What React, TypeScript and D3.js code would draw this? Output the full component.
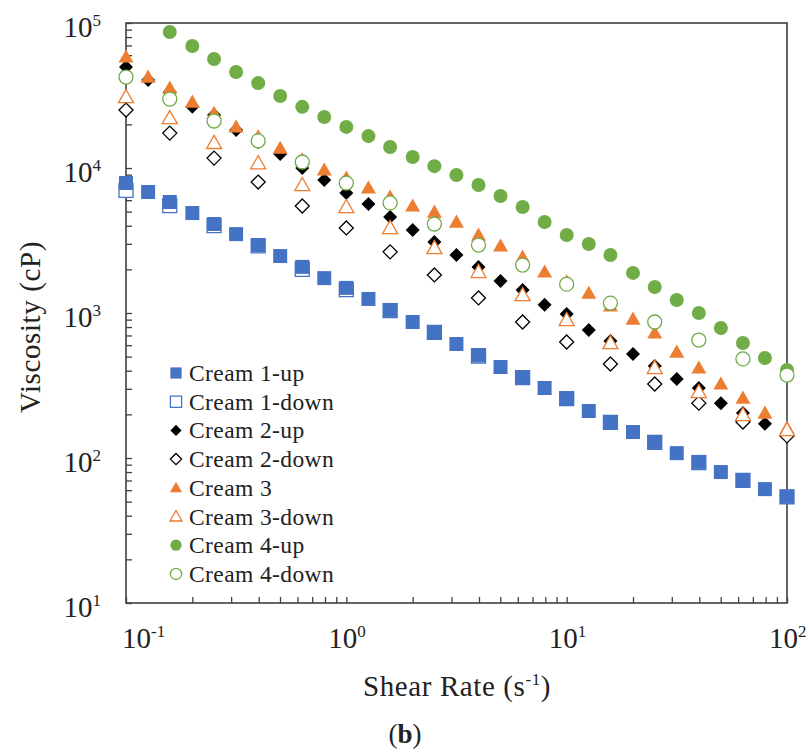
import React, { useRef, useEffect } from "react";
import * as d3 from "d3";

// shear rates (1/s), 10 points per decade for the up-curves
const shearRate = [0.1, 0.126, 0.158, 0.2, 0.251, 0.316, 0.398, 0.501, 0.631, 0.794, 1, 1.26, 1.58, 2, 2.51, 3.16, 3.98, 5.01, 6.31, 7.94, 10, 12.6, 15.8, 20, 25.1, 31.6, 39.8, 50.1, 63.1, 79.4, 100];
// down-curves were sampled every other point
const shearRateDown = [0.1, 0.158, 0.251, 0.398, 0.631, 1, 1.58, 2.51, 3.98, 6.31, 10, 15.8, 25.1, 39.8, 63.1, 100];

// viscosity (cP)
const cream1Up = [7880, 6830, 5830, 4890, 4110, 3500, 2940, 2470, 2080, 1740, 1490, 1250, 1050, 867, 739, 611, 513, 424, 362, 304, 259, 211, 177, 151, 129, 108, 94, 80, 70, 61, 54];
const cream1Down = [7000, 5500, 4000, 2900, 2000, 1450, 1040, 735, 505, 358, 257, 176, 128, 93, 70, 54];
const cream2Up = [49700, 40400, 33400, 26400, 23200, 18300, 15100, 12500, 10000, 8260, 6730, 5650, 4590, 3740, 3090, 2510, 2080, 1660, 1440, 1140, 984, 764, 641, 521, 431, 351, 304, 239, 204, 172, 144];
const cream2Down = [25100, 17400, 11700, 8000, 5470, 3860, 2640, 1830, 1270, 867, 631, 445, 324, 239, 177, 142];
const cream3 = [58300, 42400, 35600, 28500, 23900, 19200, 16400, 13700, 11400, 9690, 8530, 7280, 6310, 5470, 4970, 4240, 3450, 2900, 2430, 1920, 1640, 1370, 1120, 909, 728, 538, 418, 324, 259, 204, 161];
const cream3Down = [30900, 22100, 14900, 10800, 7640, 5380, 3860, 2810, 1920, 1330, 895, 621, 418, 285, 198, 156];
const cream4Up = [null, null, 86700, 69400, 56500, 45900, 38500, 31400, 26400, 22500, 19200, 16600, 13950, 11900, 10300, 8950, 7640, 6410, 5380, 4240, 3450, 2990, 2510, 1890, 1510, 1230, 1000, 788, 621, 489, 404];
const cream4Down = [42400, 29900, 21100, 15400, 11000, 7880, 5740, 4110, 2940, 2140, 1580, 1170, 867, 651, 482, 373];

const xDecades = [0.1, 1, 10, 100];
const yDecades = [10, 100, 1000, 10000, 100000];

const BLUE = "#4472C4";
const ORANGE = "#ED7D31";
const GREEN = "#70AD47";

const series = [
  { name: "Cream 1-up", xs: shearRate, ys: cream1Up, shape: "square", color: BLUE, filled: true },
  { name: "Cream 1-down", xs: shearRateDown, ys: cream1Down, shape: "square", color: BLUE, filled: false },
  { name: "Cream 2-up", xs: shearRate, ys: cream2Up, shape: "diamond", color: "#000", filled: true },
  { name: "Cream 2-down", xs: shearRateDown, ys: cream2Down, shape: "diamond", color: "#000", filled: false },
  { name: "Cream 3", xs: shearRate, ys: cream3, shape: "triangle", color: ORANGE, filled: true },
  { name: "Cream 3-down", xs: shearRateDown, ys: cream3Down, shape: "triangle", color: ORANGE, filled: false },
  { name: "Cream 4-up", xs: shearRate, ys: cream4Up, shape: "circle", color: GREEN, filled: true },
  { name: "Cream 4-down", xs: shearRateDown, ys: cream4Down, shape: "circle", color: GREEN, filled: false },
];
// 1-down sits under 1-up in the original
const drawOrder = [1, 0, 2, 3, 4, 5, 6, 7];

const W = 806, H = 753;
const m = { left: 126, right: 787, top: 23, bottom: 603 };

function markerPath(shape, s) {
  const h = s / 2;
  if (shape === "square") return `M${-h},${-h}H${h}V${h}H${-h}Z`;
  if (shape === "diamond") return `M0,${-h}L${h},0L0,${h}L${-h},0Z`;
  if (shape === "triangle") return `M0,${-h}L${h},${h * 0.75}L${-h},${h * 0.75}Z`;
  const p = d3.path();
  p.arc(0, 0, h, 0, Math.PI * 2);
  return p.toString();
}
const markerSize = { square: 14, diamond: 14, triangle: 15, circle: 14 };

function Marker({ s, x, y, scale = 1 }) {
  return (
    <path
      d={markerPath(s.shape, markerSize[s.shape] * scale)}
      transform={`translate(${x},${y})`}
      fill={s.filled ? s.color : "#fff"}
      stroke={s.color}
      strokeWidth={s.filled ? 0 : 1.3}
    />
  );
}

function Pow({ base = "10", exp }) {
  return (
    <>
      {base}
      <tspan fontSize={17} dy={-11}>{exp}</tspan>
    </>
  );
}

export default function App() {
  const xAxisRef = useRef(null);
  const yAxisRef = useRef(null);

  const x = d3.scaleLog().domain([0.1, 100]).range([m.left, m.right]);
  const y = d3.scaleLog().domain([10, 100000]).range([m.bottom, m.top]);

  useEffect(() => {
    const minor = (dec) => dec.slice(0, -1).flatMap((d) => d3.range(1, 10).map((k) => k * d)).concat([dec[dec.length - 1]]);
    const xAxis = d3.axisBottom(x).tickValues(minor(xDecades)).tickSize(-6).tickSizeOuter(0).tickFormat(() => "");
    const yAxis = d3.axisLeft(y).tickValues(minor(yDecades)).tickSize(-6).tickSizeOuter(0).tickFormat(() => "");
    const gx = d3.select(xAxisRef.current).call(xAxis);
    const gy = d3.select(yAxisRef.current).call(yAxis);
    [gx, gy].forEach((g) => {
      g.select(".domain").remove();
      g.selectAll(".tick line").attr("stroke", "#404040").attr("stroke-width", 1.3);
    });
  }, []);

  const legendX = 176;
  const legendY0 = 373;
  const legendStep = 28.7;

  return (
    <div style={{ position: "absolute", left: 0, top: 0, width: W, height: H, background: "#fff" }}>
      <svg width={W} height={H} fontFamily="'Liberation Serif', 'Times New Roman', serif">
        <rect width={W} height={H} fill="#fff" />
        <g ref={xAxisRef} transform={`translate(0,${m.bottom})`} />
        <g ref={yAxisRef} transform={`translate(${m.left},0)`} />
        <rect x={m.left} y={m.top} width={m.right - m.left} height={m.bottom - m.top} fill="none" stroke="#404040" strokeWidth={1.6} />

        {/* tick labels */}
        {yDecades.map((d, i) => (
          <text key={d} x={101} y={y(d) + 14} textAnchor="end" fontSize={29} fill="#222">
            <Pow exp={String(i + 1)} />
          </text>
        ))}
        {xDecades.map((d, i) => (
          <text key={d} x={i === 0 ? x(d) - 4 : x(d) - 18} y={648} textAnchor="start" fontSize={29} fill="#222">
            <Pow exp={String(i - 1)} />
          </text>
        ))}

        {/* axis titles */}
        <text x={363} y={696} fontSize={29} fill="#222" letterSpacing={0.6}>
          Shear Rate (s<tspan fontSize={17} dy={-11}>-1</tspan><tspan dy={11}>)</tspan>
        </text>
        <text transform="translate(40,327) rotate(-90)" textAnchor="middle" fontSize={29} fill="#222" letterSpacing={0.6}>
          Viscosity (cP)
        </text>
        <text x={405} y={743} textAnchor="middle" fontSize={27} fill="#222">
          (<tspan fontWeight="bold">b</tspan>)
        </text>

        {/* data */}
        {drawOrder.map((si) => {
          const s = series[si];
          return (
            <g key={s.name}>
              {s.ys.map((v, i) =>
                v == null ? null : <Marker key={i} s={s} x={x(s.xs[i])} y={y(v)} />
              )}
            </g>
          );
        })}

        {/* legend */}
        {series.map((s, i) => (
          <g key={s.name} transform={`translate(0,${legendY0 + i * legendStep})`}>
            <Marker s={s} x={legendX} y={0} scale={0.8} />
            <text x={189} y={8} fontSize={23.5} fill="#222" letterSpacing={0.4}>
              {s.name}
            </text>
          </g>
        ))}
      </svg>
    </div>
  );
}
